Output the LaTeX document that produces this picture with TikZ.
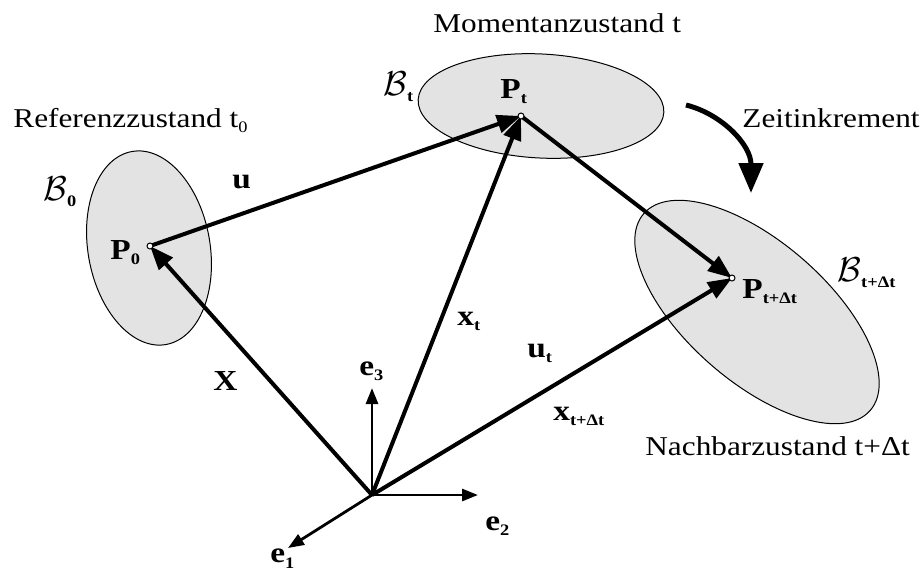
\documentclass[tikz,border=0pt]{standalone}
\usepackage{fontspec}
\setmainfont{Liberation Serif}[FakeStretch=1.15]
\usetikzlibrary{arrows.meta, calc}

% bold vector symbol with small bold subscript
\newcommand{\vsym}[2]{\textbf{#1}\raisebox{-0.45ex}{\fontsize{8}{8}\selectfont\bfseries #2}}
\newcommand{\body}[1]{{\fontsize{16}{16}\selectfont$\mathcal{B}$}\raisebox{-0.5ex}{\fontsize{8}{8}\selectfont\bfseries #1}}

\tikzset{
  region/.style={draw=black, fill=black!11, line width=0.5pt},
  vec/.style={line width=2pt, -{Triangle[length=12pt, width=9pt]}},
  basis/.style={line width=1.4pt, -{Triangle[length=8pt, width=6pt]}},
  pt/.style={draw=black, fill=white, line width=0.5pt},
  txt/.style={font=\fontsize{13.6}{15}\selectfont, anchor=base west, inner sep=0pt},
  lbl/.style={font=\fontsize{14.5}{15}\selectfont, anchor=base west, inner sep=0pt}
}

\begin{document}
\begin{tikzpicture}[x=0.5pt, y=-0.5pt]
\useasboundingbox (0,0) rectangle (922,569);

% the three configurations
\draw[region] (149,248) ellipse [x radius=61, y radius=98, rotate=10];
\draw[region] (541,106) ellipse [x radius=123, y radius=52, rotate=-3];
\draw[region] (757,312) ellipse [x radius=150, y radius=70, rotate=-41];

% material points
\coordinate (O) at (372,495);
\coordinate (P0) at (150,246);
\coordinate (Pt) at (521,116);
\coordinate (Pdt) at (732,278);

% position and displacement vectors
\draw[vec] (O) -- (P0);
\draw[vec] (O) -- (Pt);
\draw[vec] (O) -- (Pdt);
\draw[vec] (P0) -- (Pt);
\draw[vec] (Pt) -- (Pdt);

% basis
\coordinate (e1tip) at (288,548);
\coordinate (e2tip) at (478,495);
\coordinate (e3tip) at (372,388);
\draw[basis] (O) -- (e1tip);
\draw[basis] (O) -- (e2tip);
\draw[basis] (O) -- (e3tip);

\foreach \p in {P0,Pt,Pdt}
  \draw[pt] (\p) circle (3);

% time increment
\coordinate (zstart) at (686,105);
\coordinate (zend) at (751,193);
\draw[line width=2.5pt, -{Triangle[length=15pt, width=12pt]}]
  (zstart) .. controls (722,114) and (751,145) .. (zend);

% state labels
\node[txt] (ref) at (13,127) {Referenzzustand t\raisebox{-0.4ex}{\fontsize{8}{8}\selectfont 0}};
\node[txt] (mom) at (433,32) {Momentanzustand t};
\node[txt] (zeit) at (742,127) {Zeitinkrement};
\node[txt] (nach) at (645,455) {Nachbarzustand t+Δt};

% body labels
\node[lbl] (B0) at (43,200) {\body{0}};
\node[lbl] (Bt) at (383,95) {\body{t}};
\node[lbl] (Bdt) at (837,281) {\body{t+Δt}};

% point labels
\node[lbl] (lP0) at (110,259) {\vsym{P}{0}};
\node[lbl] (lPt) at (500,98) {\vsym{P}{t}};
\node[lbl] (lPdt) at (742,298) {\vsym{P}{t+Δt}};

% vector labels
\node[lbl] (lu) at (232,188) {\textbf{u}};
\node[lbl] (lut) at (527,357) {\vsym{u}{t}};
\node[lbl] (lxt) at (457,325) {\vsym{x}{t}};
\node[lbl] (lxdt) at (553,420) {\vsym{x}{t+Δt}};
\node[lbl] (lX) at (213,390) {\textbf{X}};
\node[lbl] (le1) at (270,562) {\vsym{e}{1}};
\node[lbl] (le2) at (485,530) {\vsym{e}{2}};
\node[lbl] (le3) at (359,375) {\vsym{e}{3}};
\end{tikzpicture}
\end{document}
